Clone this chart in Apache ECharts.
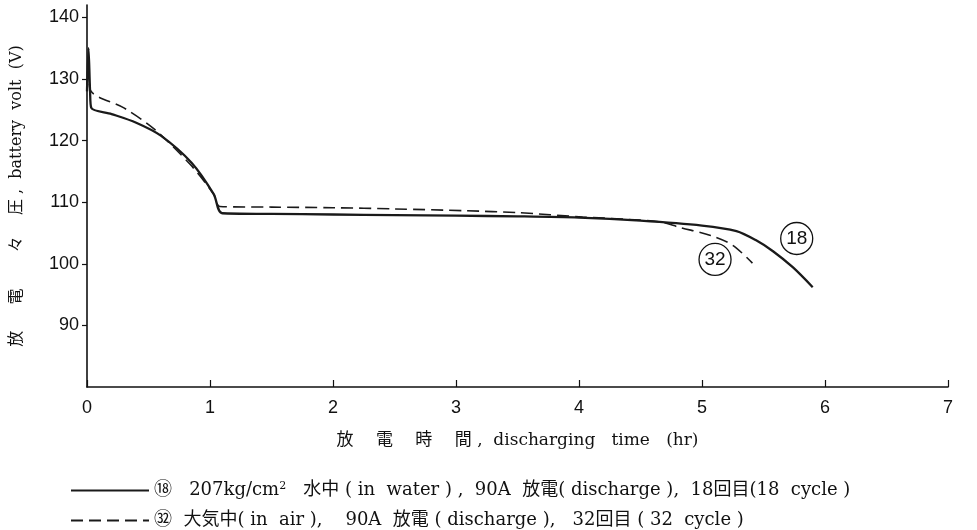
<!DOCTYPE html>
<html>
<head>
<meta charset="utf-8">
<script src="https://cdn.jsdelivr.net/npm/echarts@6/dist/echarts.min.js"></script>
<style>
  html, body { margin: 0; padding: 0; background: #fff; }
  #chart { width: 977px; height: 530px; }
</style>
</head>
<body>
<div id="chart"></div>
<script>
// Discharge time (hr) and battery voltage (V) for each run
const timeCycle18 = [0, 0.012, 0.025, 0.035, 0.2, 0.4, 0.6, 0.85, 1.03, 1.1, 1.5, 2, 2.5, 3, 3.5, 4, 4.5, 5, 5.28, 5.44, 5.58, 5.74, 5.9];
const voltCycle18 = [128, 135, 128, 125.3, 124.3, 122.9, 120.8, 116.4, 111.3, 108.2, 108.1, 108.0, 107.9, 107.8, 107.7, 107.5, 107.0, 106.2, 105.3, 103.8, 102.0, 99.4, 96.2];

const timeCycle32 = [0, 0.012, 0.025, 0.3, 0.55, 0.84, 1.03, 1.08, 1.5, 2, 2.5, 3.09, 3.5, 4.03, 4.4, 4.66, 4.82, 5.07, 5.25, 5.41];
const voltCycle32 = [128, 133, 128.3, 125.3, 121.8, 116.1, 111.3, 109.3, 109.2, 109.1, 108.9, 108.6, 108.3, 107.6, 107.2, 106.8, 105.9, 104.6, 103.0, 100.1];

// Axis ticks
const xTicks = [0, 1, 2, 3, 4, 5, 6, 7];
const yTicks = [90, 100, 110, 120, 130, 140];

// Circled curve labels: [time, volt, text]
const tag18 = [5.77, 104.1, '18'];
const tag32 = [5.106, 100.7, '32'];

const name18 = '⑱ 207kg/cm2 水中 ( in water), 90A 放電(discharge), 18回目(18 cycle)';
const name32 = '㉜ 大気中( in air), 90A 放電 (discharge), 32回目 (32 cycle)';
const legendRich = {};
legendRich[name18] = '⑱   207kg/cm{sup|2}   水中 ( in  water ) ,  90A  放電( discharge ),  18回目(18  cycle )';
legendRich[name32] = '㉜  大気中( in  air ),    90A  放電 ( discharge ),   32回目 ( 32  cycle )';

const zip = (xs, ys) => xs.map((x, i) => [x, ys[i]]);

const serif = '"DejaVu Serif", "Noto Sans CJK JP", serif';
const sans = '"Liberation Sans", Arial, sans-serif';

function tagPoint(t) {
  return {
    coord: [t[0], t[1]],
    value: t[2],
    symbol: 'circle',
    symbolSize: 32,
    itemStyle: { color: 'rgba(255,255,255,0)', borderColor: '#111', borderWidth: 1.3 },
    label: { show: true, position: 'inside', formatter: t[2], color: '#111', fontFamily: sans, fontSize: 19 }
  };
}

const chart = echarts.init(document.getElementById('chart'));
chart.setOption({
  backgroundColor: '#fff',
  animation: false,
  grid: { left: 87, right: 29, top: 5, bottom: 143 },
  xAxis: {
    type: 'value',
    min: 0, max: 7, interval: 1,
    name: '放　 電　 時　 間 ,  discharging   time   (hr)',
    nameLocation: 'middle',
    nameGap: 45,
    nameTextStyle: { fontFamily: serif, fontSize: 17, color: '#111' },
    axisLine: { lineStyle: { color: '#111', width: 1.6 } },
    axisTick: { inside: true, length: 7, lineStyle: { color: '#111', width: 1.2 }, customValues: xTicks },
    axisLabel: { color: '#111', fontFamily: sans, fontSize: 18, margin: 12, customValues: xTicks },
    splitLine: { show: false }
  },
  yAxis: {
    type: 'value',
    min: 80, max: 142, interval: 10,
    name: '放　  電　    々　 圧 ,  battery  volt  (V)',
    nameLocation: 'middle',
    nameGap: 62,
    nameTextStyle: { fontFamily: serif, fontSize: 16, color: '#111' },
    axisLine: { show: true, lineStyle: { color: '#111', width: 1.6 } },
    axisTick: { show: true, inside: false, length: 5, lineStyle: { color: '#111', width: 1.2 }, customValues: yTicks },
    axisLabel: { color: '#111', fontFamily: sans, fontSize: 18, margin: 8, customValues: yTicks },
    splitLine: { show: false }
  },
  legend: {
    orient: 'vertical',
    left: 70,
    top: 481,
    padding: 0,
    itemWidth: 78,
    itemHeight: 14,
    itemGap: 12,
    data: [name18, name32],
    itemStyle: { opacity: 0 },
    formatter: n => legendRich[n],
    textStyle: {
      fontFamily: serif, fontSize: 18, color: '#111',
      rich: { sup: { fontFamily: serif, fontSize: 11, color: '#111', verticalAlign: 'top', padding: [0, 0, 8, 0] } }
    }
  },
  series: [
    {
      name: name18,
      type: 'line',
      data: zip(timeCycle18, voltCycle18),
      symbol: 'none',
      smooth: 0.3,
      lineStyle: { color: '#1a1a1a', width: 2.3, type: 'solid' },
      itemStyle: { color: '#1a1a1a' },
      markPoint: { silent: true, data: [tagPoint(tag18)] },
      z: 3
    },
    {
      name: name32,
      type: 'line',
      data: zip(timeCycle32, voltCycle32),
      symbol: 'none',
      smooth: 0.3,
      lineStyle: { color: '#1a1a1a', width: 1.6, type: [12, 6] },
      itemStyle: { color: '#1a1a1a' },
      markPoint: { silent: true, data: [tagPoint(tag32)] },
      z: 2
    }
  ]
});
</script>
</body>
</html>
